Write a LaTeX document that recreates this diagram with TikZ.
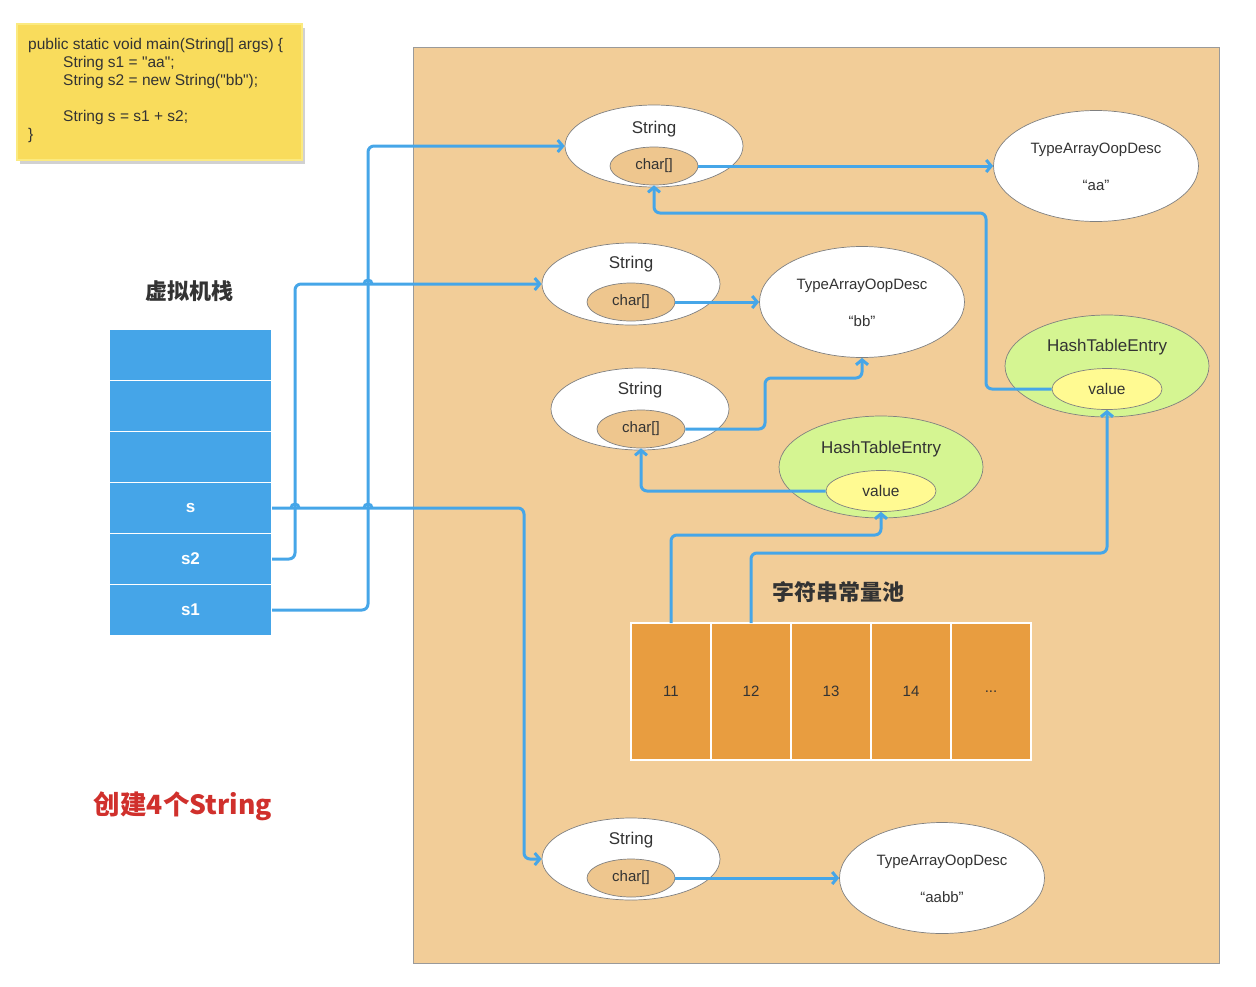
\documentclass[tikz,border=0pt]{standalone}
\usepackage{fontspec}
\setmainfont{Liberation Sans}
\newfontfamily\codefont[Ligatures=TeXOff]{Liberation Sans}
\newfontfamily\cjk{Noto Sans CJK SC}
\usepackage{xcolor}
\definecolor{HeapTan}{HTML}{F2CD98}
\definecolor{HeapLine}{HTML}{9A9A9A}
\definecolor{CharTan}{HTML}{EEC68E}
\definecolor{StackBlue}{HTML}{45A5E8}
\definecolor{PoolOrange}{HTML}{E89D40}
\definecolor{EntryGreen}{HTML}{D5F592}
\definecolor{ValueYellow}{HTML}{FFFA92}
\definecolor{CodeYellow}{HTML}{F9DC5C}
\definecolor{CodeLine}{HTML}{FBEA80}
\definecolor{WireBlue}{HTML}{46A6E8}
\definecolor{TitleRed}{HTML}{D0302C}
\definecolor{InkGray}{HTML}{333333}
\usetikzlibrary{arrows.meta,positioning,shapes.geometric,shadows}

\begin{document}
\begin{tikzpicture}[
  x=1pt,y=-1pt,
  obj/.style={ellipse,draw=black!50,line width=0.7pt,fill=white,inner sep=0pt},
  strobj/.style={obj,minimum width=178pt,minimum height=82pt},
  arrobj/.style={obj,minimum width=205pt,minimum height=111pt},
  entry/.style={obj,fill=EntryGreen,minimum width=204pt,minimum height=102pt},
  chars/.style={obj,fill=CharTan,minimum width=88pt,minimum height=38pt,font=\fontsize{15}{18}\selectfont,text=InkGray},
  val/.style={obj,fill=ValueYellow,minimum width=110pt,minimum height=41pt,font=\fontsize{15.5}{18}\selectfont,text=InkGray},
  lbl/.style={font=\fontsize{17}{20}\selectfont,text=InkGray,inner sep=0pt},
  small/.style={font=\fontsize{15}{18}\selectfont,text=InkGray,inner sep=0pt},
  head/.style={font=\cjk\bfseries\fontsize{22}{26}\selectfont,text=InkGray,inner sep=0pt},
  slot/.style={rectangle,draw=white,line width=1.2pt,outer sep=0pt,fill=StackBlue,minimum width=163pt,minimum height=51pt,text=white,font=\fontsize{17}{20}\selectfont\bfseries},
  pool/.style={rectangle,draw=white,line width=1.2pt,outer sep=0pt,fill=PoolOrange,minimum width=80pt,minimum height=137pt,font=\fontsize{15}{18}\selectfont,text=InkGray},
  wire/.style={draw=WireBlue,line width=3pt,rounded corners=6pt,-{Straight Barb[length=5pt,width=12pt]}},
  bump/.style={draw=WireBlue,line width=3pt},
  node distance=0pt
]
\useasboundingbox (0,0) rectangle (1256,986);

% code
\node[rectangle,draw=CodeLine,line width=1.5pt,fill=CodeYellow,minimum width=285pt,minimum height=136pt,anchor=north west,
      drop shadow={shadow xshift=3pt,shadow yshift=-4pt,opacity=0.3,fill=black!60}] (code) at (16,23) {};
\node[small,anchor=north west,align=left,font=\codefont\fontsize{15.5}{18}\selectfont] (codetxt) at (28,38)
  {public static void main(String[] args) \{\\
   \hspace*{35pt}String s1 = "aa";\\
   \hspace*{35pt}String s2 = new String("bb");\\[18pt]
   \hspace*{35pt}String s = s1 + s2;\\
   \}};

% heap
\node[rectangle,draw=HeapLine,line width=1pt,fill=HeapTan,minimum width=806pt,minimum height=916pt,anchor=north west] (heap) at (413,47) {};

% stack
\node[head] (stacktitle) at (189,291) {虚拟机栈};
\node[slot] (v1) at (190.5,355) {};
\node[slot,below=of v1] (v2) {};
\node[slot,below=of v2] (v3) {};
\node[slot,below=of v3] (vs) {s};
\node[slot,below=of vs] (vs2) {s2};
\node[slot,below=of vs2] (vs1) {s1};
\node[font=\cjk\bfseries\fontsize{26.5}{30}\selectfont,text=TitleRed,inner sep=0pt] (note) at (183,806) {创建4个String};

% String objects
\node[strobj] (str1) at (654,146) {};
\node[lbl] (str1lbl) at (654,129) {String};
\node[chars] (chr1) at (654,166) {char[]};
\node[strobj] (str2) at (631,284) {};
\node[lbl] (str2lbl) at (631,264) {String};
\node[chars] (chr2) at (631,302) {char[]};
\node[strobj] (str3) at (640,409) {};
\node[lbl] (str3lbl) at (640,390) {String};
\node[chars] (chr3) at (641,429) {char[]};
\node[strobj] (str4) at (631,859) {};
\node[lbl] (str4lbl) at (631,840) {String};
\node[chars] (chr4) at (631,878) {char[]};

% char arrays
\node[arrobj] (toa) at (1096,166) {};
\node[small] (toatype) at (1096,150) {TypeArrayOopDesc};
\node[small] (toaval) at (1096,185) {“aa”};
\node[arrobj] (tob) at (862,302) {};
\node[small] (tobtype) at (862,286) {TypeArrayOopDesc};
\node[small] (tobval) at (862,321) {“bb”};
\node[arrobj] (toc) at (942,878) {};
\node[small] (toctype) at (942,862) {TypeArrayOopDesc};
\node[small] (tocval) at (942,897) {“aabb”};

% entries
\node[entry] (ent1) at (1107,366) {};
\node[lbl] (ent1lbl) at (1107,347) {HashTableEntry};
\node[val] (val1) at (1107,389) {value};
\node[entry] (ent2) at (881,467) {};
\node[lbl] (ent2lbl) at (881,449) {HashTableEntry};
\node[val] (val2) at (881,491) {value};

% string pool
\node[head] (pooltitle) at (838,592) {字符串常量池};
\node[pool] (p11) at (671,691.5) {11};
\node[pool,right=of p11] (p12) {12};
\node[pool,right=of p12] (p13) {13};
\node[pool,right=of p13] (p14) {14};
\node[pool,right=of p14] (pmore) {...};

% references
\draw[wire] (vs1.east) -- ++(96,0) |- (str1.west);
\draw[wire] (vs2.east) -- ++(23,0) |- (str2.west);
\draw[wire] (vs.east) -- ++(252,0) |- (str4.west);
\draw[bump] (291,508) arc[start angle=180,end angle=0,radius=4pt];
\draw[bump] (364,508) arc[start angle=180,end angle=0,radius=4pt];
\draw[bump] (364,284) arc[start angle=180,end angle=0,radius=4pt];
\draw[wire] (chr1.east) -- (toa.west);
\draw[wire] (chr2.east) -- (tob.west);
\draw[wire] (chr3.east) -| (765,378) -| (tob.south);
\draw[wire] (chr4.east) -- (toc.west);
\draw[wire] (val1.west) -| (986,213) -| (chr1.south);
\draw[wire] (val2.west) -| (chr3.south);
\draw[wire] (p11.north) -- ++(0,-88) -| (val2.south);
\draw[wire] (p12.north) -- ++(0,-70) -| (val1.south);
\end{tikzpicture}
\end{document}
